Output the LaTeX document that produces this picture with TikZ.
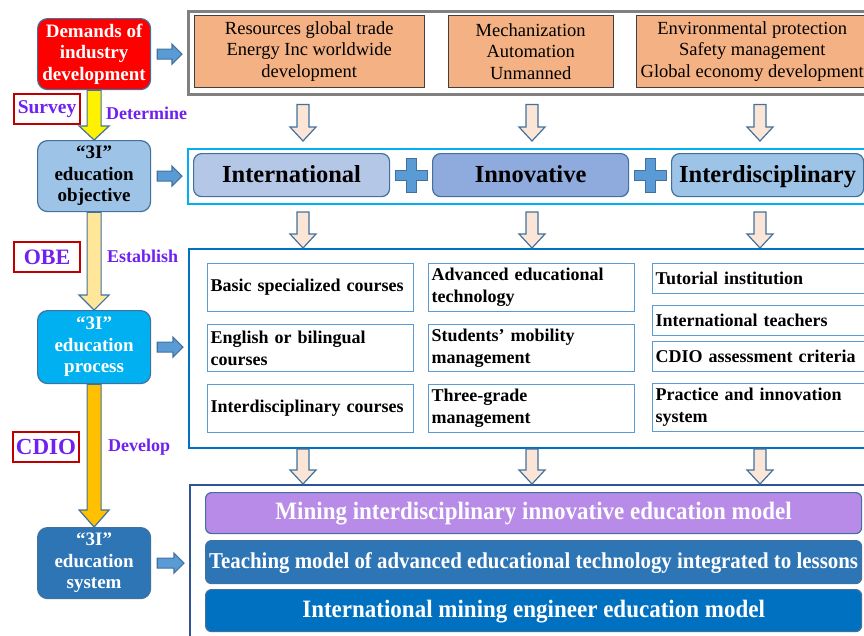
\documentclass[tikz,border=0pt]{standalone}
\usepackage{fontspec}
\setmainfont{Liberation Serif}
\newfontfamily\narrowfont{Liberation Serif}[FakeStretch=0.92]
\usetikzlibrary{positioning,calc}

\definecolor{objblue}{HTML}{9DC3E6}
\definecolor{procblue}{HTML}{00B0F0}
\definecolor{sysblue}{HTML}{2E75B6}
\definecolor{edgeblue}{HTML}{41719C}
\definecolor{arrblue}{HTML}{5B9BD5}
\definecolor{tagred}{HTML}{C00000}
\definecolor{verbviolet}{HTML}{7020F0}
\definecolor{trend}{HTML}{F4B183}
\definecolor{peach}{HTML}{FBE5D6}
\definecolor{lightyellow}{HTML}{FFE699}
\definecolor{amber}{HTML}{FFC000}
\definecolor{intlblue}{HTML}{B4C7E7}
\definecolor{innoblue}{HTML}{8FAADC}
\definecolor{mixpurple}{HTML}{B98BE8}
\definecolor{mineblue}{HTML}{0070C0}
\definecolor{navy}{HTML}{2F5597}

% block arrow going down: start, end, half shaft, half head, head length, fill
\newcommand{\vblock}[6]{%
  \draw[blockline,fill=#6] let \p1=(#1), \p2=(#2) in
    (\x1-#3,\y1) -- (\x1-#3,\y2+#5) -- (\x1-#4,\y2+#5) -- (\x1,\y2)
    -- (\x1+#4,\y2+#5) -- (\x1+#3,\y2+#5) -- (\x1+#3,\y1) -- cycle;}
% block arrow going right
\newcommand{\hblock}[2]{%
  \draw[blockline,fill=arrblue] let \p1=(#1), \p2=(#2) in
    (\x1,\y1+5pt) -- (\x2-10pt,\y1+5pt) -- (\x2-10pt,\y1+10pt) -- (\x2,\y1)
    -- (\x2-10pt,\y1-10pt) -- (\x2-10pt,\y1-5pt) -- (\x1,\y1-5pt) -- cycle;}
% plus sign
\newcommand{\plusmark}[1]{%
  \draw[blockline,fill=arrblue] let \p1=(#1) in
    (\x1-5pt,\y1+17pt) -- (\x1+5pt,\y1+17pt) -- (\x1+5pt,\y1+5pt) -- (\x1+16pt,\y1+5pt)
    -- (\x1+16pt,\y1-5pt) -- (\x1+5pt,\y1-5pt) -- (\x1+5pt,\y1-17pt) -- (\x1-5pt,\y1-17pt)
    -- (\x1-5pt,\y1-5pt) -- (\x1-16pt,\y1-5pt) -- (\x1-16pt,\y1+5pt) -- (\x1-5pt,\y1+5pt) -- cycle;}

\begin{document}
\begin{tikzpicture}[x=1pt,y=-1pt,
  leftbox/.style={draw=edgeblue,line width=1.2pt,rounded corners=10pt,anchor=north west,
    minimum width=113pt,minimum height=71pt,inner sep=1pt,align=center,
    font=\bfseries\fontsize{19}{21.5}\selectfont},
  tag/.style={draw=tagred,line width=2.4pt,fill=white,minimum width=66pt,minimum height=30pt,
    inner sep=0pt,text=verbviolet,font=\bfseries\fontsize{19.5}{20}\selectfont},
  verb/.style={anchor=west,inner sep=0pt,text=verbviolet,font=\bfseries\fontsize{18}{20}\selectfont},
  panel/.style={draw=#1,line width=2pt,anchor=north west,minimum width=690pt},
  trendbox/.style={draw=black!75,fill=trend,anchor=north west,minimum height=72pt,inner sep=0pt,
    align=center,font=\fontsize{18.5}{21.5}\selectfont},
  goalbox/.style={draw=edgeblue,line width=1.2pt,fill=#1,rounded corners=8pt,anchor=north west,
    minimum height=43pt,inner sep=0pt,text height=17pt,text depth=3pt,
    font=\bfseries\fontsize{24.5}{26}\selectfont},
  itembox/.style={draw=arrblue,line width=1.3pt,anchor=north west,inner xsep=3pt,inner ysep=0pt,
    text width=#1,align=left,font=\bfseries\fontsize{18}{22}\selectfont},
  modelbar/.style={draw=edgeblue,line width=1.2pt,fill=#1,rounded corners=6pt,anchor=north west,
    minimum width=656pt,inner sep=0pt,text height=17pt,text depth=4pt,text=white,
    font=\narrowfont\bfseries\fontsize{25}{26}\selectfont},
  blockline/.style={draw=edgeblue,line width=1.2pt}]
\useasboundingbox (0,0) rectangle (864,635);
\clip (0,0) rectangle (864,635);

% left column
\node[leftbox,fill=red,text=white] (dem) at (37,18) {Demands of\\industry\\development};
\node[leftbox,fill=objblue] (obj) at (37,140) {“3I”\\education\\objective};
\node[leftbox,fill=procblue,text=white,minimum height=73pt] (proc) at (37,310) {“3I”\\education\\process};
\node[leftbox,fill=sysblue,text=white] (sys) at (37,527) {“3I”\\education\\system};

\vblock{dem.south}{obj.north}{7pt}{15pt}{14pt}{yellow}
\vblock{obj.south}{proc.north}{7pt}{15pt}{15pt}{lightyellow}
\vblock{proc.south}{sys.north}{7pt}{15pt}{17pt}{amber}

\node[tag] (survey) at (47,109) {Survey};
\node[verb] (determine) at (106,113) {Determine};
\node[tag,font=\bfseries\fontsize{22}{24}\selectfont] (obe) at (47,257) {OBE};
\node[verb] (establish) at (107,256) {Establish};
\node[tag,font=\bfseries\fontsize{23}{24}\selectfont] (cdio) at (46,447) {CDIO};
\node[verb] (develop) at (108,447) {Develop};

% panels on the right
\node[panel=black!50,line width=2.5pt,minimum height=83pt] (f1) at (187,10) {};
\node[panel=procblue,minimum height=55pt] (f2) at (187,148) {};
\node[panel=mineblue,minimum height=199pt] (f3) at (188,248) {};
\node[panel=navy,minimum height=170pt] (f4) at (189,484) {};

\hblock{$(dem.east)+(6,0)$}{$(dem.east -| f1.west)+(-5,0)$}
\hblock{$(obj.east)+(6,0)$}{$(obj.east -| f2.west)+(-5,0)$}
\hblock{$(proc.east)+(6,0)$}{$(proc.east -| f3.west)+(-5,0)$}
\hblock{$(sys.east)+(6,0)$}{$(sys.east -| f4.west)+(-5,0)$}

% industry trends
\node[trendbox,minimum width=230pt] (trade) at (194,15) {Resources global trade\\Energy Inc worldwide\\development};
\node[trendbox,minimum width=165pt] (mech) at (448,15) {Mechanization\\Automation\\Unmanned};
\node[trendbox,minimum width=232pt] (env) at (636,15) {Environmental protection\\Safety management\\Global economy development};

% objective
\node[goalbox=intlblue,minimum width=196pt] (intl) at (193,153) {International};
\node[goalbox=innoblue,minimum width=196pt] (inno) at (432,153) {Innovative};
\node[goalbox=objblue,minimum width=192pt] (inter) at (671,153) {Interdisciplinary};
\plusmark{$(intl.east)!0.5!(inno.west)$}
\plusmark{$(inno.east)!0.5!(inter.west)$}

% process
\node[itembox=200pt,minimum height=48pt] (basic) at (207,263) {Basic specialized courses};
\node[itembox=200pt,minimum height=47pt] (english) at (207,324) {English or bilingual\\courses};
\node[itembox=200pt,minimum height=48pt] (cross) at (207,384) {Interdisciplinary courses};
\node[itembox=200pt,minimum height=48pt] (advtech) at (428,263) {Advanced educational\\technology};
\node[itembox=200pt,minimum height=47pt] (mobility) at (428,324) {Students’ mobility\\management};
\node[itembox=200pt,minimum height=48pt] (grade) at (428,384) {Three-grade\\management};
\node[itembox=224pt,minimum height=30pt] (tutor) at (652,263) {Tutorial institution};
\node[itembox=224pt,minimum height=30pt] (teachers) at (652,305) {International teachers};
\node[itembox=224pt,minimum height=30pt] (criteria) at (652,341) {CDIO assessment criteria};
\node[itembox=224pt,minimum height=48pt] (practice) at (652,383) {Practice and innovation\\system};

% system
\node[modelbar=mixpurple,minimum height=41pt] (mixmodel) at (205,492) {Mining interdisciplinary innovative education model};
\node[modelbar=sysblue,minimum height=43pt,font=\narrowfont\bfseries\fontsize{22.7}{24}\selectfont] (techmodel) at (205,540) {Teaching model of advanced educational technology integrated to lessons};
\node[modelbar=mineblue,minimum height=42pt] (minemodel) at (205,589) {International mining engineer education model};

% arrows between panels
\coordinate (k1) at (303,0);
\coordinate (k2) at (532,0);
\coordinate (k3) at (760,0);
\vblock{$(k1 |- f1.south)+(0,9)$}{$(k1 |- f2.north)+(0,-7)$}{6pt}{13pt}{14pt}{peach}
\vblock{$(k2 |- f1.south)+(0,9)$}{$(k2 |- f2.north)+(0,-7)$}{6pt}{13pt}{14pt}{peach}
\vblock{$(k3 |- f1.south)+(0,9)$}{$(k3 |- f2.north)+(0,-7)$}{6pt}{13pt}{14pt}{peach}
\vblock{$(k1 |- f2.south)+(0,7)$}{k1 |- f3.north}{6pt}{13pt}{14pt}{peach}
\vblock{$(k2 |- f2.south)+(0,7)$}{k2 |- f3.north}{6pt}{13pt}{14pt}{peach}
\vblock{$(k3 |- f2.south)+(0,7)$}{k3 |- f3.north}{6pt}{13pt}{14pt}{peach}
\vblock{k1 |- f3.south}{k1 |- f4.north}{6pt}{13pt}{14pt}{peach}
\vblock{k2 |- f3.south}{k2 |- f4.north}{6pt}{13pt}{14pt}{peach}
\vblock{k3 |- f3.south}{k3 |- f4.north}{6pt}{13pt}{14pt}{peach}
\end{tikzpicture}
\end{document}
